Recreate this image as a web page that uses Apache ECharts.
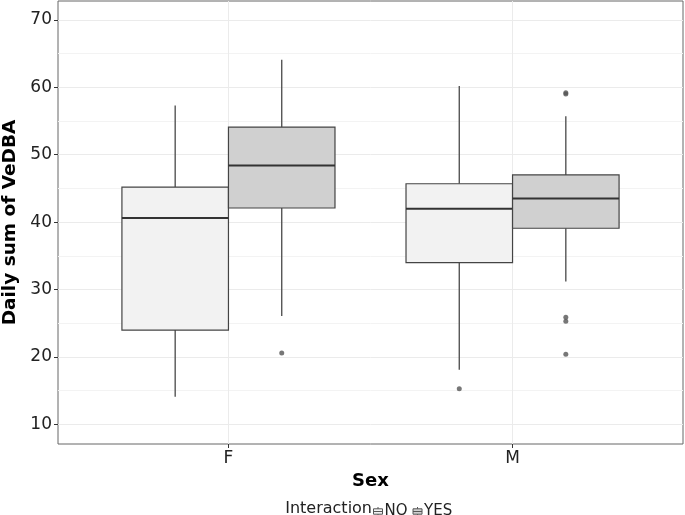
<!DOCTYPE html>
<html>
<head>
<meta charset="utf-8">
<script src="https://cdn.jsdelivr.net/npm/echarts@6/dist/echarts.min.js"></script>
<style>
html,body{margin:0;padding:0;background:#fff;}
#chart{width:685px;height:515px;}
</style>
</head>
<body>
<div id="chart"></div>
<script>
// ---- data ----
const sexCategories = ['F', 'M'];
const groups = ['NO', 'YES'];
// [low whisker, Q1, median, Q3, high whisker] per sex
const boxNO  = [[14.1, 24.0, 40.6, 45.2, 57.3], [18.1, 34.0, 42.0, 45.7, 60.2]];
const boxYES = [[26.1, 42.1, 48.4, 54.1, 64.1], [31.2, 39.1, 43.5, 47.0, 55.7]];
const outNO  = [[], [15.3]];
const outYES = [[20.6], [59.0, 59.2, 25.9, 25.3, 20.4]];
const yMajorTicks = [10, 20, 30, 40, 50, 60, 70];
const yMinorTicks = [15, 25, 35, 45, 55, 65];
const fillColors = { NO: '#f2f2f2', YES: '#d0d0d0' };

const FONT = 'DejaVu Sans';
const DODGE = 0.1875, BOX_W = 0.375;

function boxData(arr) {
  return arr.map((v, i) => [i, v[0], v[1], v[2], v[3], v[4]]);
}
function outData(arr, offset) {
  const res = [];
  arr.forEach((vals, i) => vals.forEach(v => res.push([i + 1 + offset, v])));
  return res;
}
function makeRender(offset, fill) {
  return function (params, api) {
    const x = api.value(0) + 1 + offset;
    const lo = api.coord([x, api.value(1)]);
    const q1 = api.coord([x, api.value(2)]);
    const md = api.coord([x, api.value(3)]);
    const q3 = api.coord([x, api.value(4)]);
    const hi = api.coord([x, api.value(5)]);
    const w = api.size([BOX_W, 0])[0];
    const whisk = { stroke: '#555', lineWidth: 1.4 };
    return {
      type: 'group',
      children: [
        { type: 'line', shape: { x1: lo[0], y1: lo[1], x2: q1[0], y2: q1[1] }, style: whisk },
        { type: 'line', shape: { x1: q3[0], y1: q3[1], x2: hi[0], y2: hi[1] }, style: whisk },
        { type: 'rect', shape: { x: q3[0] - w / 2, y: q3[1], width: w, height: q1[1] - q3[1] },
          style: { fill: fill, stroke: '#444', lineWidth: 1.2 } },
        { type: 'line', shape: { x1: md[0] - w / 2, y1: md[1], x2: md[0] + w / 2, y2: md[1] },
          style: { stroke: '#333', lineWidth: 2 } }
      ]
    };
  };
}

const boxIcon = 'path://M5,0 L5,2 M0,2 L10,2 L10,8 L0,8 Z M0,5 L10,5 M5,8 L5,10';

const chart = echarts.init(document.getElementById('chart'), null, { renderer: 'canvas' });
chart.setOption({
  animation: false,
  backgroundColor: '#fff',
  grid: { left: 58, right: 2, top: 1, bottom: 71, show: true, borderColor: '#666', borderWidth: 1,
    backgroundColor: 'transparent', containLabel: false, outerBoundsMode: 'none' },
  xAxis: {
    type: 'value', min: 0.4, max: 2.6,
    name: 'Sex', nameLocation: 'middle', nameGap: 25,
    nameTextStyle: { fontFamily: FONT, fontWeight: 'bold', fontSize: 18, color: '#000' },
    axisLine: { show: false },
    axisTick: { show: true, length: 4, lineStyle: { color: '#333' }, customValues: [1, 2] },
    axisLabel: { customValues: [1, 2], formatter: v => sexCategories[Math.round(v) - 1] || '',
      fontFamily: FONT, fontSize: 17, color: '#222', margin: 6 },
    splitLine: { show: true, lineStyle: { color: '#ebebeb', width: 1 } }
  },
  yAxis: [{
    type: 'value', min: 7.1, max: 72.8,
    name: 'Daily sum of VeDBA', nameLocation: 'middle', nameGap: 38,
    nameTextStyle: { fontFamily: FONT, fontWeight: 'bold', fontSize: 18.5, color: '#000' },
    axisLine: { show: false },
    axisTick: { show: true, length: 4, lineStyle: { color: '#333' }, customValues: yMajorTicks },
    axisLabel: { customValues: yMajorTicks, fontFamily: FONT, fontSize: 17, color: '#222', margin: 6 },
    splitLine: { show: true, lineStyle: { color: '#ebebeb', width: 1 } }
  }, {
    type: 'value', min: 7.1, max: 72.8, position: 'left',
    axisLine: { show: false },
    axisTick: { show: false, customValues: yMinorTicks },
    axisLabel: { show: false, customValues: yMinorTicks },
    splitLine: { show: true, lineStyle: { color: '#f3f3f3', width: 1 } }
  }],
  legend: {
    left: 373, top: 504, padding: 0, itemWidth: 9, itemHeight: 10, itemGap: 5,
    textStyle: { fontFamily: FONT, fontSize: 15, color: '#222', padding: [0, 0, 0, -3] },
    data: groups.map(g => ({ name: g, icon: boxIcon,
      itemStyle: { color: fillColors[g], borderColor: '#555', borderWidth: 1 } }))
  },
  graphic: [{
    type: 'text', x: 372, y: 509,
    style: { text: 'Interaction', font: '16px "DejaVu Sans"', fill: '#222', textAlign: 'right', textVerticalAlign: 'middle' }
  }],
  series: [
    { name: 'NO', type: 'custom', renderItem: makeRender(-DODGE, fillColors.NO),
      itemStyle: { color: fillColors.NO },
      encode: { x: 0, y: [1, 2, 3, 4, 5] }, data: boxData(boxNO), z: 3 },
    { name: 'YES', type: 'custom', renderItem: makeRender(DODGE, fillColors.YES),
      itemStyle: { color: fillColors.YES },
      encode: { x: 0, y: [1, 2, 3, 4, 5] }, data: boxData(boxYES), z: 3 },
    { name: 'NO', type: 'scatter', symbolSize: 5, itemStyle: { color: '#555' },
      data: outData(outNO, -DODGE), z: 4 },
    { name: 'YES', type: 'scatter', symbolSize: 5, itemStyle: { color: '#555' },
      data: outData(outYES, DODGE), z: 4 }
  ]
});
</script>
</body>
</html>
